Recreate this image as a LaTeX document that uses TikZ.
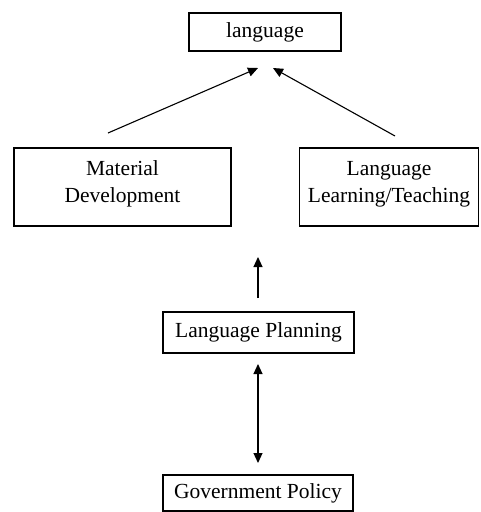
\documentclass[tikz,border=0pt]{standalone}
\usepackage{fontspec}
\setmainfont{Liberation Serif}
\usetikzlibrary{arrows.meta}
\begin{document}
\begin{tikzpicture}[x=1pt,y=-1pt,
  box/.style={draw,line width=1.1pt,inner sep=0pt,align=center,
    font=\fontsize{21.5}{27}\selectfont},
  conn/.style={line width=1.1pt,-{Triangle[length=10pt,width=9pt]}},
  dconn/.style={line width=1.1pt,{Triangle[length=10pt,width=9pt]}-{Triangle[length=10pt,width=9pt]}}]
\useasboundingbox (0,0) rectangle (480,512);
\node[box,minimum width=152pt,minimum height=38pt] (lang) at (265,32) {language};
\node[box,minimum width=217pt,minimum height=78pt] (md) at (122.5,187) {Material\\Development\\[-17pt]\mbox{}};
\node[box,minimum width=179pt,minimum height=78pt] (llt) at (389,187) {Language\\Learning/Teaching\\[-17pt]\mbox{}};
\node[box,minimum width=191pt,minimum height=41pt] (lp) at (258.5,332.5) {Language Planning};
\node[box,minimum width=190pt,minimum height=36pt] (gp) at (258,493) {Government Policy};
\coordinate (a1s) at (108,133);
\coordinate (a1e) at (258,68);
\coordinate (a2s) at (395,136);
\coordinate (a2e) at (273,68);
\coordinate (a3s) at (258,298);
\coordinate (a3e) at (258,257);
\coordinate (a4s) at (258,364);
\coordinate (a4e) at (258,463);
\draw[conn] (a1s) -- (a1e);
\draw[conn] (a2s) -- (a2e);
\draw[conn] (a3s) -- (a3e);
\draw[dconn] (a4s) -- (a4e);
\end{tikzpicture}
\end{document}
